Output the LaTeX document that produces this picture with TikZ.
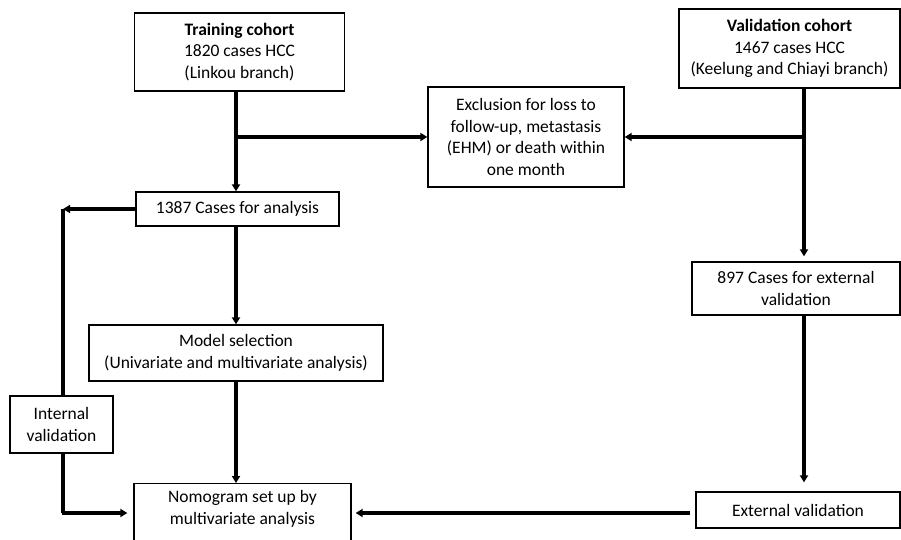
\documentclass[tikz,border=0pt]{standalone}
\usepackage{fontspec}
\setmainfont{Carlito}
\usetikzlibrary{arrows.meta}
\begin{document}
\begin{tikzpicture}[x=1pt,y=-1pt,
  box/.style={draw=black,line width=1.3pt,fill=white,align=center,inner sep=2pt,
    font=\fontsize{17.5}{21.5}\selectfont},
  conn/.style={line width=3.1pt,draw=black},
  arr/.style={conn,-{Triangle[length=7pt,width=8pt]}}]
\useasboundingbox (0,0) rectangle (901,539);
\clip (0,0) rectangle (901,539);
% nodes
\node[box,minimum width=210pt,minimum height=78pt] (train) at (239.5,52)
  {\textbf{Training cohort}\\1820 cases HCC\\(Linkou branch)};
\node[box,minimum width=221pt,minimum height=79pt] (valid) at (789.5,48.5)
  {\textbf{Validation cohort}\\1467 cases HCC\\(Keelung and Chiayi branch)};
\node[box,minimum width=196pt,minimum height=100pt] (excl) at (526,137)
  {Exclusion for loss to\\follow-up, metastasis\\(EHM) or death within\\one month};
\node[box,minimum width=203pt,minimum height=34pt] (c1387) at (237.5,209)
  {1387 Cases for analysis};
\node[box,minimum width=208pt,minimum height=53pt] (c897) at (796,288.5)
  {897 Cases for external\\validation};
\node[box,minimum width=294pt,minimum height=56pt] (model) at (236,353)
  {Model selection\\(Univariate and multivariate analysis)};
\node[box,minimum width=103pt,minimum height=57pt] (internal) at (61.5,424.5)
  {Internal\\validation};
\node[box,minimum width=217pt,minimum height=80pt,anchor=north] (nomo) at (242.5,483) {};
\node[align=center,font=\fontsize{17.5}{21.5}\selectfont] (nomotext) at (242.5,509)
  {Nomogram set up by\\multivariate analysis};
\node[box,minimum width=204pt,minimum height=36pt] (ext) at (798,510)
  {External validation};
% coordinates
\coordinate (tx) at (236,0);
\coordinate (vx) at (804,0);
\coordinate (j1) at (236,137);
\coordinate (j2) at (804,137);
\coordinate (lc) at (63,209);
\coordinate (lb) at (63,513);
\coordinate (rb) at (690,513);
% connectors
\draw[arr] (train.south -| tx) -- (c1387.north -| tx);
\draw[arr] ([xshift=1.5pt]j1) -- (excl.west);
\draw[arr] (valid.south -| vx) -- ([yshift=5pt]c897.north -| vx);
\draw[arr] ([xshift=-1.5pt]j2) -- (excl.east);
\draw[arr] (c1387.west) -- (lc);
\draw[conn] (lc) -- (internal.north -| lc);
\draw[conn] (internal.south -| lc) -- (lb);
\draw[arr] ([xshift=-1.5pt]lb) -- ([xshift=-6pt]nomo.west |- lb);
\draw[arr] (c1387.south -| tx) -- (model.north -| tx);
\draw[arr] (model.south -| tx) -- (nomo.north -| tx);
\draw[arr] (c897.south -| vx) -- ([yshift=9pt]ext.north -| vx);
\draw[arr] (rb) -- ([xshift=4pt]nomo.east |- rb);
\end{tikzpicture}
\end{document}
